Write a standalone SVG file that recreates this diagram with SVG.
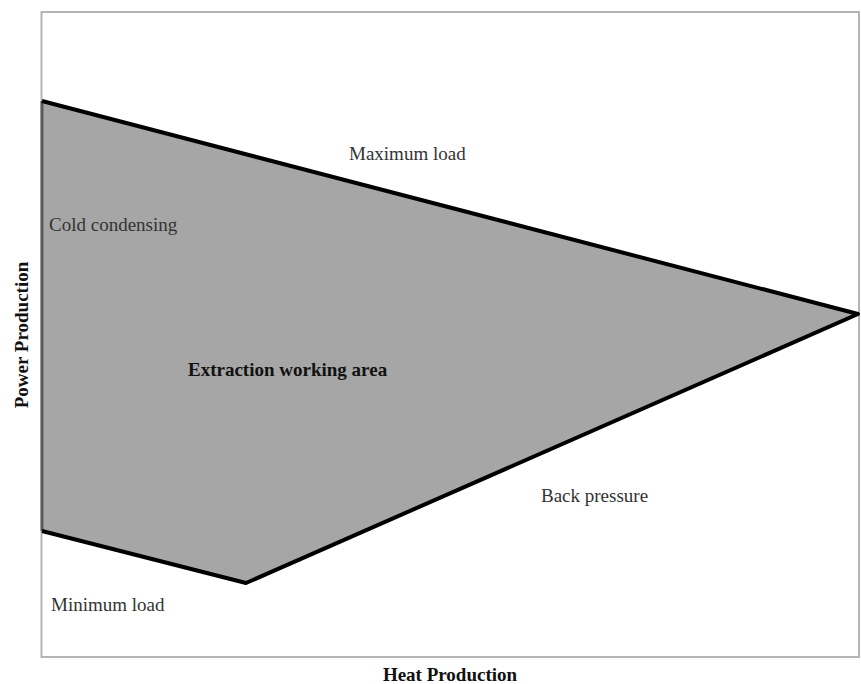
<svg xmlns="http://www.w3.org/2000/svg" width="861" height="684" viewBox="0 0 861 684">
  <style>
    .lbl { font-family: "Liberation Serif", "Times New Roman", serif; font-size: 19px; fill: #333; }
    .bold { font-weight: bold; fill: #111; }
    .axis { font-family: "Liberation Serif", "Times New Roman", serif; font-size: 19px; font-weight: bold; fill: #111; }
  </style>
  <rect width="861" height="684" fill="#ffffff"/>
  <!-- plot frame -->
  <rect id="frame" x="41.5" y="12" width="817.5" height="645" fill="none" stroke="#b5b5b5" stroke-width="2"/>
  <!-- operating region -->
  <g id="region">
    <polygon points="42,101 858,314 246,583 42,531" fill="#a6a6a6"/>
    <line x1="42" y1="101" x2="42" y2="531" stroke="#5a5a5a" stroke-width="3"/>
    <polyline points="42,101 858,314 246,583 42,531" fill="none" stroke="#000" stroke-width="4" stroke-linejoin="round"/>
  </g>
  <g id="labels">
    <text class="lbl" x="349" y="160">Maximum load</text>
    <text class="lbl" x="49" y="231">Cold condensing</text>
    <text class="lbl bold" x="188" y="376">Extraction working area</text>
    <text class="lbl" x="541" y="502">Back pressure</text>
    <text class="lbl" x="51" y="611">Minimum load</text>
  </g>
  <g id="axes">
    <text class="axis" x="450" y="681" text-anchor="middle">Heat Production</text>
    <text class="axis" x="0" y="0" text-anchor="middle" transform="translate(28,335) rotate(-90)">Power Production</text>
  </g>
</svg>
